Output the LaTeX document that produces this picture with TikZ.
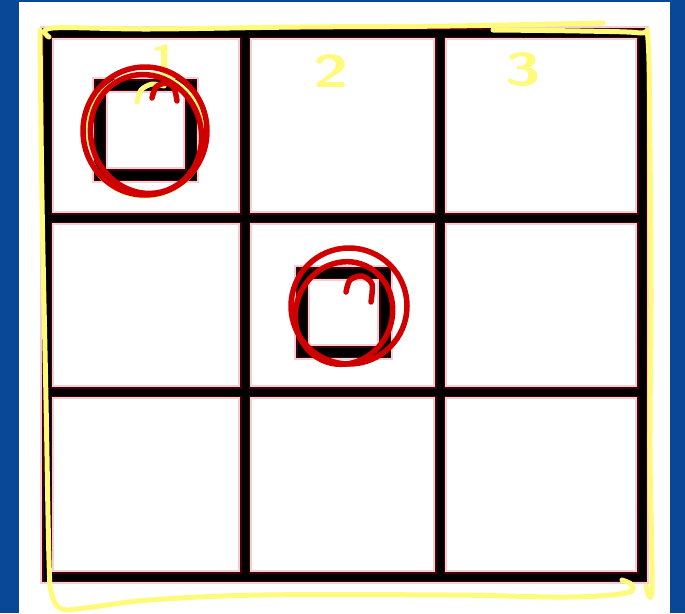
\documentclass[tikz,border=0pt]{standalone}

\definecolor{bleufond}{RGB}{8,72,150}
\definecolor{jaune}{RGB}{255,250,122}
\definecolor{rouge}{RGB}{208,0,0}
\definecolor{bordeaux}{RGB}{70,0,8}
\definecolor{rose}{RGB}{240,208,212}

\begin{document}
\begin{tikzpicture}[x=1pt,y=-1pt,
  halo/.style={draw=rose, line cap=rect},
  trait/.style={draw=bordeaux, line cap=rect},
  coeur/.style={draw=black, line cap=rect},
  surligne/.style={line width=5pt, draw=jaune, line cap=round, line join=round},
  entoure/.style={line width=5.5pt, draw=rouge, line cap=round, line join=round},
  chiffre/.style={text=jaune, font=\sffamily\bfseries\fontsize{46}{46}\selectfont, inner sep=0pt}]

%% ================= fond : cadre bleu, page blanche =========================
\fill[bleufond] (0,0) rectangle (685,613);
\fill[white] (19,2) rectangle (670,613);
\useasboundingbox (0,0) rectangle (685,613);

%% ================= grille 3x3 et petits carrés ============================
\foreach \s/\w in {halo/14,trait/10.5,coeur/7} {
  \foreach \x in {47,245,440,642} \draw[\s, line width=\w pt] (\x,33) -- (\x,577);
  \foreach \y in {33,218,392,577} \draw[\s, line width=\w pt] (47,\y) -- (642,\y);}
\foreach \s/\w in {halo/16,trait/12.5,coeur/9} {
  \draw[\s, line width=\w pt] (100,85) rectangle (191,175);
  \draw[\s, line width=\w pt] (302,273) rectangle (385,352);}

%% ================= annotations jaunes : numéros et contour ================
\node[chiffre] (un)    at (164,61) {1};
\node[chiffre] (deux)  at (331,71) {\scalebox{1.4}[1]{2}};
\node[chiffre] (trois) at (523,70) {\scalebox{1.4}[1]{3}};
\draw[surligne] plot[smooth, tension=0.6] coordinates {(49,37) (53,28) (150,29) (300,27) (450,26) (603,23)};
\draw[surligne] plot[smooth, tension=0.6] coordinates {(493,30) (580,31) (640,33) (648,40) (650,150) (651,300)
  (650,450) (652,588) (646,586)};
\draw[surligne] plot[smooth, tension=0.6] coordinates {(40,30) (42,200) (46,400) (49,560) (52,595) (62,609) (85,608)
  (150,600) (262,595) (450,595) (568,597) (626,593) (632,585) (622,580)};
\draw[surligne] (145,135) ellipse [x radius=60, y radius=61];
\draw[surligne] plot[smooth] coordinates {(137,102) (141,90) (152,84) (164,86)};

%% ================= annotations rouges : carrés entourés ===================
\draw[entoure] (145,131) ellipse [x radius=62, y radius=64];
\draw[entoure, rotate around={20:(146,134)}] (146,134) ellipse [x radius=55, y radius=60];
\draw[entoure] plot[smooth] coordinates {(152,98) (156,87) (166,83) (174,88) (177,101)};

\draw[entoure] (349,306) ellipse [x radius=58, y radius=58];
\draw[entoure, rotate around={-25:(344,313)}] (344,313) ellipse [x radius=48, y radius=52];
\draw[entoure] plot[smooth] coordinates {(346,292) (350,280) (362,276) (372,284) (371,302)};
\end{tikzpicture}
\end{document}
